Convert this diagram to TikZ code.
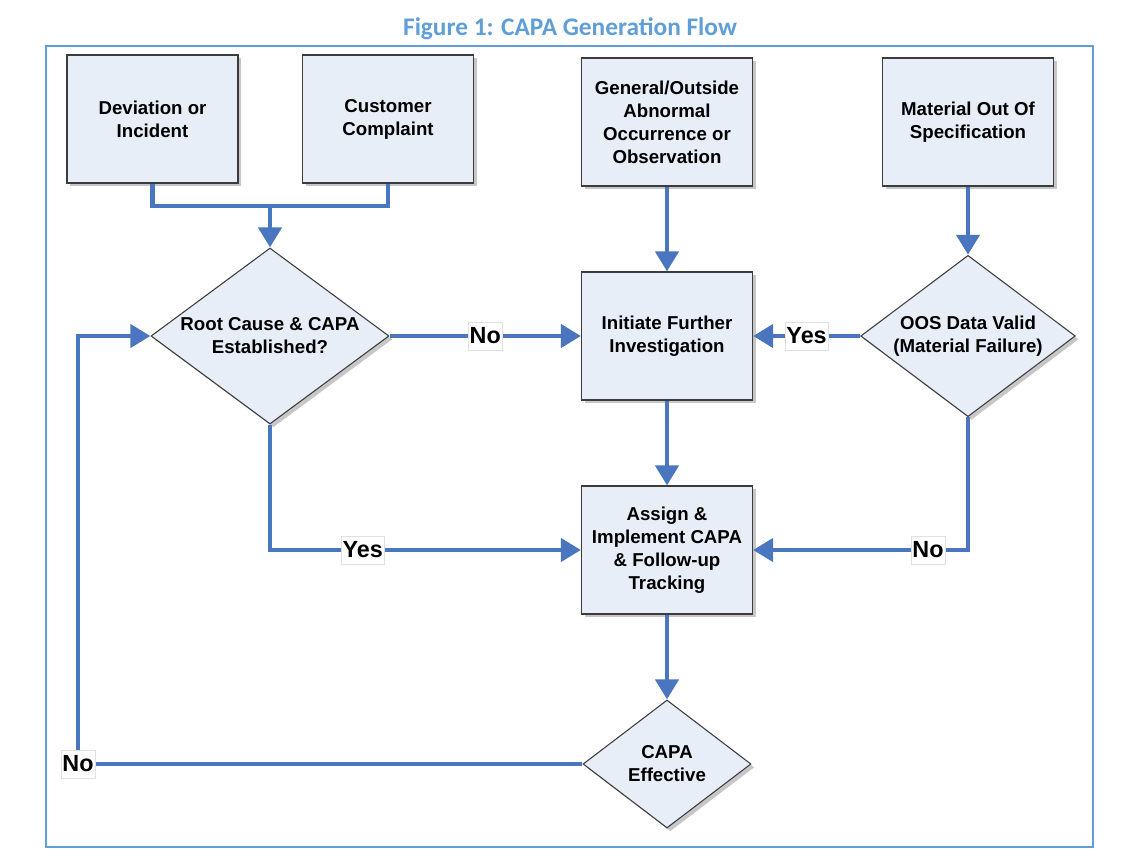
\documentclass[tikz,border=0pt]{standalone}
\usepackage{fontspec}
\setmainfont{Liberation Sans}
\newfontfamily\titlefont{Carlito}
\usetikzlibrary{arrows.meta,shapes.geometric,shadows}
\definecolor{flow}{HTML}{4A76C0}
\definecolor{frameblue}{HTML}{5F9ED6}
\definecolor{boxfill}{HTML}{E8EEF8}
\definecolor{boxline}{HTML}{3C3C3C}
\begin{document}
\begin{tikzpicture}[x=0.75pt,y=-0.75pt,
  boxshadow/.style={drop shadow={shadow xshift=2.5pt,shadow yshift=-2.5pt,fill=black,opacity=0.22}},
  nodefont/.style={font=\fontsize{14}{17.25}\selectfont\bfseries},
  procbox/.style={draw=boxline,line width=0.8pt,fill=boxfill,minimum width=128.25pt,
    minimum height=96pt,inner sep=0pt,align=center,nodefont,boxshadow},
  decision/.style={shape=diamond,draw=boxline,line width=0.8pt,fill=boxfill,inner sep=0pt,boxshadow},
  dtext/.style={align=center,nodefont},
  conn/.style={draw=flow,line width=3.7pt},
  arr/.style={conn,-{Triangle[width=17pt,length=15pt]}},
  lbl/.style={fill=white,draw=black!12,line width=0.4pt,inner xsep=1pt,inner ysep=1pt,
    minimum height=21pt,font=\fontsize{17.5}{20}\selectfont\bfseries,text=black},
  framebox/.style={draw=frameblue,line width=1.6pt}
]
\useasboundingbox (0,0) rectangle (1122,864);

\node[font=\titlefont\fontsize{19}{22}\selectfont\bfseries,text=frameblue] (title) at (570,29) {Figure 1: CAPA Generation Flow};
\draw[framebox] (46,46) rectangle (1093,847);

\node[procbox] (dev) at (152.5,119) {Deviation or\\Incident};
\node[procbox] (cust) at (388,119) {Customer\\Complaint};
\node[procbox] (gen) at (667,122) {General/Outside\\Abnormal\\Occurrence or\\Observation};
\node[procbox] (mat) at (968,122) {Material Out Of\\Specification};

\node[decision,minimum width=178.5pt,minimum height=132pt] (rc) at (270,336) {};
\node[dtext] (rct) at (rc.center) {Root Cause \& CAPA\\Established?};
\node[procbox] (init) at (667,336) {Initiate Further\\Investigation};
\node[decision,minimum width=161pt,minimum height=121pt] (oos) at (968,336) {};
\node[dtext] (oost) at (oos.center) {OOS Data Valid\\(Material Failure)};

\node[procbox] (assign) at (667,550) {Assign \&\\Implement CAPA\\\& Follow-up\\Tracking};
\node[decision,minimum width=126pt,minimum height=96pt] (capa) at (667,764) {};
\node[dtext] (capat) at (capa.center) {CAPA\\Effective};

% connectors
\coordinate (j) at (270,206);
\draw[conn] (dev.south) |- (j) -| (cust.south);
\draw[arr] (j) -- (rc.north);
\draw[arr] (gen.south) -- (init.north);
\draw[arr] (mat.south) -- (oos.north);
\draw[arr] (rc.east) -- node[lbl] (no1) {No} (init.west);
\draw[arr] (oos.west) -- node[lbl] (yes1) {Yes} (init.east);
\draw[arr] (init.south) -- (assign.north);
\draw[arr] (rc.south) |- node[lbl,pos=0.649] (yes2) {Yes} (assign.west);
\draw[arr] (oos.south) |- node[lbl,pos=0.593] (no2) {No} (assign.east);
\draw[arr] (assign.south) -- (capa.north);
\coordinate (lc) at (78,764);
\draw[arr] (capa.west) -- (lc) |- (rc.west);
\node[lbl] (no3) at (lc) {No};
\end{tikzpicture}
\end{document}
